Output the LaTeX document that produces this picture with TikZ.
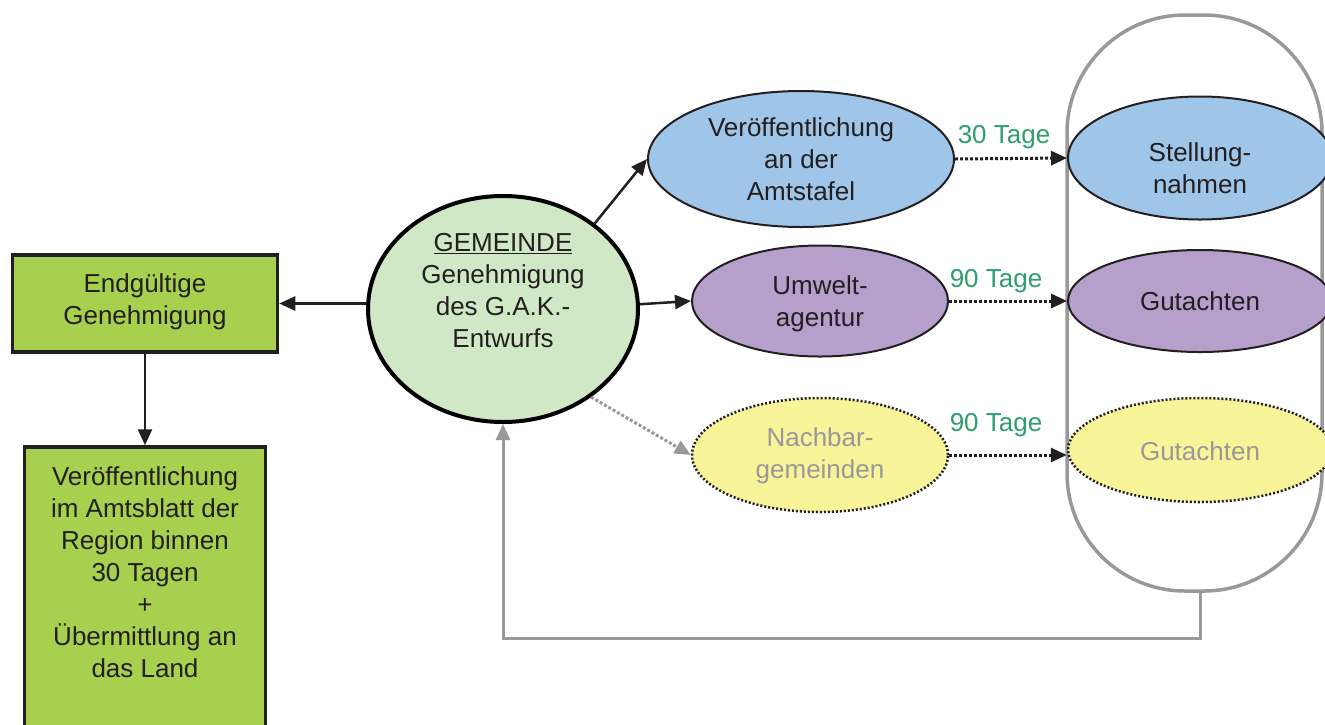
\documentclass[tikz,border=0pt]{standalone}
\usepackage{fontspec}
\setmainfont{Liberation Sans}
\usetikzlibrary{shapes.geometric,arrows.meta}
\definecolor{ink}{HTML}{231F20}
\definecolor{boxgreen}{HTML}{A8D04F}
\definecolor{circgreen}{HTML}{D0E8C6}
\definecolor{ellblue}{HTML}{9FC5E8}
\definecolor{ellpurple}{HTML}{B4A0CB}
\definecolor{ellyellow}{HTML}{F8F49A}
\definecolor{tagegreen}{HTML}{2E9E6A}
\definecolor{framegrey}{HTML}{999999}
\begin{document}
\begin{tikzpicture}[x=1pt,y=-1pt,
  txt/.style={font=\fontsize{26}{32}\selectfont, text=ink, align=center, inner sep=0pt},
  greytxt/.style={txt, text=framegrey},
  tage/.style={font=\fontsize{26}{32}\selectfont, text=tagegreen, inner sep=0pt},
  gbox/.style={draw=ink, line width=3.5pt, fill=boxgreen, inner sep=0pt},
  ell/.style={ellipse, draw=ink, line width=2pt, inner sep=0pt},
  arr/.style={draw=ink, line width=2.5pt, -{Triangle[length=16pt,width=14pt]}},
  dotarr/.style={draw=ink, line width=3pt, dotted, -{Triangle[length=16pt,width=14pt]}},
  greydotarr/.style={draw=framegrey, line width=3pt, dotted, -{Triangle[length=16pt,width=14pt]}},
  greyarr/.style={draw=framegrey, line width=3pt, -{Triangle[length=16pt,width=14pt]}},
  container/.style={draw=framegrey, line width=3.5pt, rounded corners=118pt, inner sep=0pt}
]
\useasboundingbox (0,0) rectangle (1325,724);
\clip (0,0) rectangle (1325,724);

% container
\node[container, minimum width=255pt, minimum height=576pt] (cont) at (1194.5,303) {};

% left boxes
\node[gbox, minimum width=265pt, minimum height=97pt] (final) at (145,303.5) {};
\node[txt] (finaltxt) at (145,302) {Endgültige\\Genehmigung};
\node[gbox, minimum width=241pt, minimum height=306pt] (pub) at (145,600) {};
\node[txt] (pubtxt) at (145,572) {Veröffentlichung\\im Amtsblatt der\\Region binnen\\30 Tagen\\+\\Übermittlung an\\das Land};

% central circle
\node[ellipse, draw=black, line width=4pt, fill=circgreen, inner sep=0pt,
      minimum width=270pt, minimum height=226pt] (circ) at (503,309) {};
\node[txt] (circtxt) at (503,291) {\underline{GEMEINDE}\\Genehmigung\\des G.A.K.-\\Entwurfs};

% middle ellipses
\node[ell, fill=ellblue, minimum width=306pt, minimum height=136pt] (blue) at (801,159) {};
\node[txt] (bluetxt) at (801,159) {Veröffentlichung\\an der\\Amtstafel};
\node[ell, fill=ellpurple, minimum width=256pt, minimum height=111pt] (purp) at (820,301) {};
\node[txt] (purptxt) at (820,304) {Umwelt-\\agentur};
\node[ell, dotted, line width=2.5pt, fill=ellyellow, minimum width=256pt, minimum height=114pt] (yell) at (820,455) {};
\node[greytxt] (yelltxt) at (820,456) {Nachbar-\\gemeinden};

% right ellipses
\node[ell, fill=ellblue, minimum width=264pt, minimum height=123pt] (stell) at (1200,158) {};
\node[txt] (stelltxt) at (1200,168) {Stellung-\\nahmen};
\node[ell, fill=ellpurple, minimum width=264pt, minimum height=102pt] (gut1) at (1200,301) {};
\node[txt] (gut1txt) at (1200,301) {Gutachten};
\node[ell, dotted, line width=2.5pt, fill=ellyellow, minimum width=264pt, minimum height=104pt] (gut2) at (1200,450) {};
\node[greytxt] (gut2txt) at (1200,451) {Gutachten};

% labels
\node[tage] (t30) at (1004,137) {30 Tage};
\node[tage] (t90a) at (996,281) {90 Tage};
\node[tage] (t90b) at (996,425) {90 Tage};

% connectors
\draw[arr] (final.east -| circ.west) -- (final.east);
\draw[arr] (final.south) -- (pub.north);
\draw[arr] (circ.43) -- (blue.west);
\draw[arr] (circ.2) -- (purp.west);
\draw[greydotarr] (circ.-45) -- (yell.west);
\draw[dotarr] (blue.east) -- (stell.west);
\draw[dotarr] (purp.east) -- (gut1.west);
\draw[dotarr] (yell.east) -- (gut2.west |- yell.east);
\coordinate (fb) at (1200,638);
\draw[greyarr] (stell.center |- cont.south) -- (fb) -| (circ.south);
\end{tikzpicture}
\end{document}
